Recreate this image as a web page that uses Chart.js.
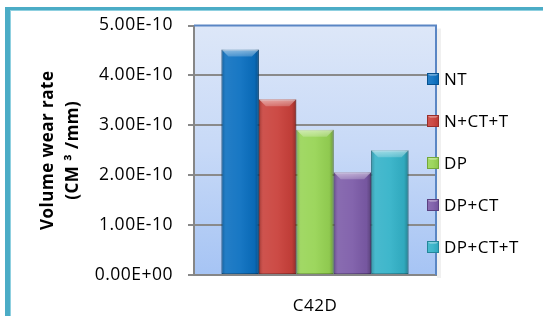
<!DOCTYPE html>
<html>
<head>
<meta charset="utf-8">
<script src="https://cdn.jsdelivr.net/npm/chart.js@4.4.1/dist/chart.umd.min.js"></script>
<style>
  html, body { margin: 0; padding: 0; background: #fff; }
  #wrap { width: 543px; height: 316px; }
</style>
</head>
<body>
<div id="wrap"><canvas id="chart" width="543" height="316"></canvas></div>
<script>
// data
const categories = ['C42D'];
const seriesNames = ['NT', 'N+CT+T', 'DP', 'DP+CT', 'DP+CT+T'];
const seriesValues = [[4.52e-10], [3.52e-10], [2.91e-10], [2.06e-10], [2.50e-10]];
const seriesColors = ['#0a6fc0', '#c9403a', '#97d454', '#7c5ba8', '#33b2c8'];
const seriesEdges = ['#07528f', '#992d29', '#73a83a', '#5a4080', '#23879a'];
const yMin = 0;
const yMax = 5e-10;
const yStep = 1e-10;
const yTitle = ['Volume wear rate', '(CM \u00b3 /mm)'];

const FONT = "'Open Sans', sans-serif";

// 5.00E-10 style labels
function sci(v) {
  if (Math.abs(v) < 1e-20) return '0.00E+00';
  const parts = v.toExponential(2).split('e');
  const n = parseInt(parts[1], 10);
  return parts[0] + 'E' + (n < 0 ? '-' : '+') + String(Math.abs(n)).padStart(2, '0');
}

// page background, teal frame and plot gradient
const backdropPlugin = {
  id: 'backdrop',
  beforeDraw(chart) {
    const { ctx, chartArea: a, width, height } = chart;
    // original text is set a little wide
    ctx.letterSpacing = '0.5px';
    ctx.save();
    ctx.fillStyle = '#ffffff';
    ctx.fillRect(0, 0, width, height);
    ctx.fillStyle = '#4bacc6';
    ctx.fillRect(5, 7, 5, height - 7);
    ctx.fillRect(5, 7, width - 5, 4);
    ctx.fillStyle = '#8fd0e0';
    ctx.fillRect(10, 10, 1, height - 10);
    ctx.fillRect(10, 10, width - 10, 1);
    // soft shadow right of plot
    ctx.fillStyle = 'rgba(0,0,0,0.06)';
    ctx.fillRect(a.right + 1, a.top + 3, 4, a.bottom - a.top);
    const g = ctx.createLinearGradient(0, a.top, 0, a.bottom);
    g.addColorStop(0, '#dde7f8');
    g.addColorStop(0.5, '#c7d9f7');
    g.addColorStop(1, '#a6c4f4');
    ctx.fillStyle = g;
    ctx.fillRect(a.left, a.top, a.right - a.left, a.bottom - a.top);
    ctx.restore();
  },
  afterDatasetsDraw(chart) {
    const { ctx, chartArea: a } = chart;
    ctx.save();
    ctx.strokeStyle = '#5a86c4';
    ctx.lineWidth = 2;
    ctx.beginPath();
    ctx.moveTo(a.left, a.top);
    ctx.lineTo(a.right, a.top);
    ctx.lineTo(a.right, a.bottom);
    ctx.stroke();
    ctx.restore();
  }
};

// bevelled look on each bar
function bevel(ctx, left, top, w, h, b) {
  const g = ctx.createLinearGradient(left, 0, left + w, 0);
  g.addColorStop(0, 'rgba(0,0,0,0.22)');
  g.addColorStop(0.12, 'rgba(255,255,255,0.10)');
  g.addColorStop(0.5, 'rgba(255,255,255,0.06)');
  g.addColorStop(0.88, 'rgba(0,0,0,0.05)');
  g.addColorStop(1, 'rgba(0,0,0,0.28)');
  ctx.fillStyle = g;
  ctx.fillRect(left, top, w, h);
  const t = ctx.createLinearGradient(0, top, 0, top + b);
  t.addColorStop(0, 'rgba(255,255,255,0.5)');
  t.addColorStop(1, 'rgba(255,255,255,0.2)');
  ctx.fillStyle = t;
  ctx.beginPath();
  ctx.moveTo(left, top);
  ctx.lineTo(left + w, top);
  ctx.lineTo(left + w - b, top + b);
  ctx.lineTo(left + b, top + b);
  ctx.closePath();
  ctx.fill();
}

const bevelPlugin = {
  id: 'bevel',
  afterDatasetsDraw(chart) {
    const ctx = chart.ctx;
    ctx.save();
    chart.data.datasets.forEach((ds, i) => {
      chart.getDatasetMeta(i).data.forEach(el => {
        const p = el.getProps(['x', 'y', 'base', 'width'], true);
        bevel(ctx, p.x - p.width / 2, p.y, p.width, p.base - p.y, 7);
      });
    });
    ctx.restore();
  }
};

// legend sits half over the plot edge, like the original
const legendPlugin = {
  id: 'sideLegend',
  afterDraw(chart) {
    const { ctx, chartArea: a } = chart;
    ctx.save();
    ctx.font = '17px ' + FONT;
    ctx.textBaseline = 'middle';
    ctx.fillStyle = '#000';
    chart.data.datasets.forEach((ds, i) => {
      const y = 79 + i * 42;
      const x = a.right - 9;
      ctx.fillStyle = ds.backgroundColor;
      ctx.fillRect(x, y - 6, 12, 12);
      bevel(ctx, x, y - 6, 12, 12, 3);
      ctx.strokeStyle = ds.borderColor;
      ctx.lineWidth = 1;
      ctx.strokeRect(x + 0.5, y - 5.5, 11, 11);
      ctx.fillStyle = '#000';
      ctx.fillText(ds.label, x + 17, y + 1);
    });
    ctx.restore();
  }
};

new Chart(document.getElementById('chart'), {
  type: 'bar',
  plugins: [backdropPlugin, bevelPlugin, legendPlugin],
  data: {
    labels: categories,
    datasets: seriesNames.map((name, i) => ({
      label: name,
      data: seriesValues[i],
      backgroundColor: seriesColors[i],
      borderColor: seriesEdges[i],
      borderWidth: 1,
      borderSkipped: false,
      categoryPercentage: 0.773,
      barPercentage: 1.0
    }))
  },
  options: {
    responsive: false,
    animation: false,
    devicePixelRatio: 1,
    layout: { padding: { left: 0, top: 22, right: 107, bottom: 0 } },
    plugins: {
      legend: { display: false },
      tooltip: { enabled: false }
    },
    scales: {
      x: {
        grid: { display: false, drawTicks: false },
        border: { color: '#868686', width: 2 },
        ticks: { color: '#000', font: { family: FONT, size: 17 }, padding: 21 },
        afterFit(scale) { scale.height = 41; }
      },
      y: {
        min: yMin,
        max: yMax,
        ticks: {
          stepSize: yStep,
          callback: v => sci(v),
          color: '#000',
          font: { family: FONT, size: 17.5 },
          padding: 15
        },
        grid: {
          color: ctx => (ctx.tick && ctx.tick.value >= yMax ? 'rgba(0,0,0,0)' : '#8a8a8a'),
          lineWidth: 2,
          tickLength: 6,
          tickColor: '#8a8a8a'
        },
        border: { color: '#868686', width: 2 },
        title: {
          display: true,
          text: yTitle,
          color: '#000',
          font: { family: FONT, size: 17, weight: 'bold', lineHeight: 1.47 },
          padding: { top: 36, bottom: 0 }
        },
        afterFit(scale) { scale.width = 194; }
      }
    }
  }
});
</script>
</body>
</html>
